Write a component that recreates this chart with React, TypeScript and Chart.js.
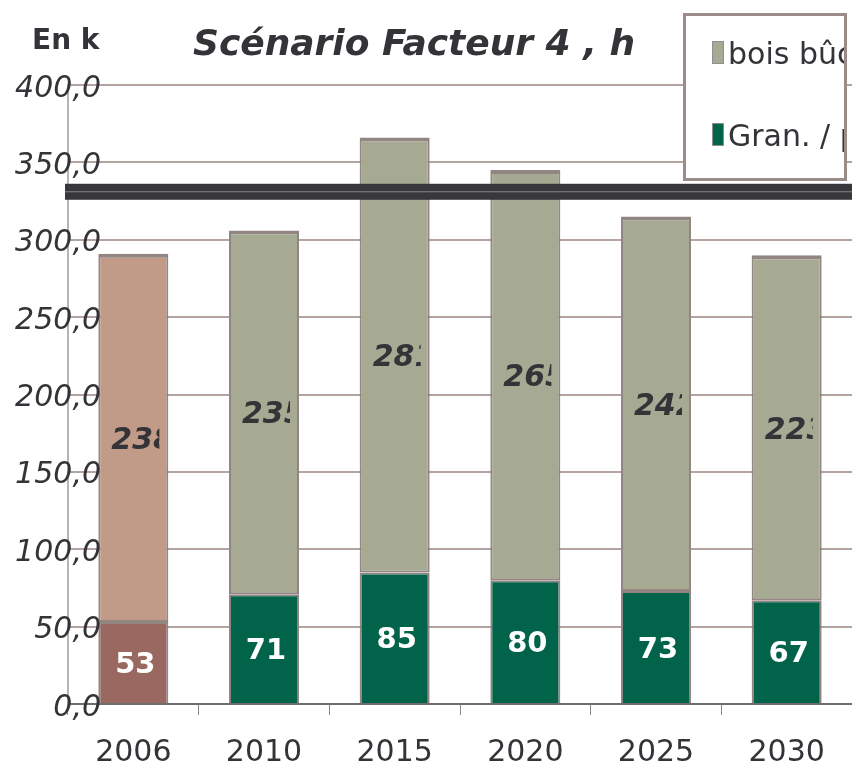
import React, { useEffect, useRef } from 'react';
import { Chart, registerables } from 'chart.js';

Chart.register(...registerables);

// ---- data ----
const categories = ['2006', '2010', '2015', '2020', '2025', '2030'];
const granValues = [53, 71, 85, 80, 73, 67];
const boisValues = [238, 235, 281, 265, 242, 223];
const targetValue = 331;
const yMin = 0;
const yMax = 400;
const yStep = 50;
const titleText = 'Scénario Facteur 4 , hors bois énergie';
const unitText = 'En ktep';
const legendLabels = ['bois bûche', 'Gran. / plaquettes'];

// ---- styles ----
const FONT = "'DejaVu Sans', Verdana, sans-serif";
const TEXT = '#333338';
const GRAN_FIRST = '#986861';
const GRAN = '#01634a';
const BOIS_FIRST = '#c19a88';
const BOIS = '#a7aa93';
const BAR_BORDER = '#928682';

const fmt = (v: number) => Number(v).toFixed(1).replace('.', ',');

const overlayPlugin = {
  id: 'overlay',
  afterDatasetsDraw(chart: any) {
    const ctx = chart.ctx as CanvasRenderingContext2D;
    const ys = chart.scales.y;
    const area = chart.chartArea;
    const metaG = chart.getDatasetMeta(0);
    const metaB = chart.getDatasetMeta(1);

    ctx.save();
    // bottom segment labels
    ctx.font = `bold 29px ${FONT}`;
    ctx.fillStyle = '#ffffff';
    ctx.textAlign = 'center';
    ctx.textBaseline = 'alphabetic';
    metaG.data.forEach((el: any, i: number) => {
      const p = el.getProps(['x', 'y', 'base'], true);
      ctx.fillText(String(granValues[i]), p.x + 2, (p.y + p.base) / 2 + 10.5);
    });
    // top segment labels (clipped inside bar)
    metaB.data.forEach((el: any, i: number) => {
      const p = el.getProps(['x', 'y', 'base', 'width'], true);
      const left = p.x - p.width / 2;
      ctx.save();
      ctx.beginPath();
      ctx.rect(left, p.y, p.width - 9, p.base - p.y);
      ctx.clip();
      ctx.font = `italic bold 30px ${FONT}`;
      ctx.fillStyle = TEXT;
      ctx.textAlign = 'left';
      ctx.textBaseline = 'alphabetic';
      ctx.fillText(String(boisValues[i]), left + 13, (p.y + p.base) / 2 + 11);
      ctx.restore();
    });

    // target band
    const ty = ys.getPixelForValue(targetValue);
    ctx.fillStyle = '#38373c';
    ctx.fillRect(area.left - 3, ty - 8, chart.width - area.left + 3, 16);
    ctx.fillStyle = '#85858a';
    ctx.fillRect(area.left - 3, ty - 0.5, chart.width - area.left + 3, 1);
    ctx.restore();
  },
  afterDraw(chart: any) {
    const ctx = chart.ctx as CanvasRenderingContext2D;
    const ys = chart.scales.y;
    const area = chart.chartArea;
    ctx.save();

    // y tick labels, right aligned, overlapping the axis line
    ctx.font = `italic 30px ${FONT}`;
    ctx.fillStyle = TEXT;
    ctx.textAlign = 'right';
    ctx.textBaseline = 'alphabetic';
    ys.ticks.forEach((t: any) => {
      const py = ys.getPixelForValue(t.value);
      ctx.fillText(fmt(t.value), area.left + 33, py + 11.5);
    });

    // unit
    ctx.save();
    ctx.beginPath();
    ctx.rect(0, 0, 100, 80);
    ctx.clip();
    ctx.font = `bold 28px ${FONT}`;
    ctx.fillStyle = TEXT;
    ctx.textAlign = 'left';
    ctx.fillText(unitText, 32, 49);
    ctx.restore();

    // title
    ctx.save();
    ctx.beginPath();
    ctx.rect(150, 0, 485, 80);
    ctx.clip();
    ctx.font = `italic bold 36px ${FONT}`;
    ctx.fillStyle = TEXT;
    ctx.textAlign = 'left';
    ctx.fillText(titleText, 193, 55);
    ctx.restore();

    // legend box
    const bx = 684.5, by = 14.5, bw = 161, bh = 165;
    ctx.fillStyle = '#ffffff';
    ctx.fillRect(bx, by, bw, bh);
    ctx.strokeStyle = '#9b8c88';
    ctx.lineWidth = 3;
    ctx.strokeRect(bx, by, bw, bh);
    ctx.save();
    ctx.beginPath();
    ctx.rect(bx + 1.5, by + 1.5, bw - 3, bh - 3);
    ctx.clip();
    const colors = [BOIS, GRAN];
    const baselines = [64, 146];
    legendLabels.forEach((lab, i) => {
      const b = baselines[i];
      ctx.fillStyle = colors[i];
      ctx.fillRect(712, b - 23, 12, 23);
      ctx.strokeStyle = '#8f8f8f';
      ctx.lineWidth = 1;
      ctx.strokeRect(712.5, b - 22.5, 11, 22);
      ctx.font = `30px ${FONT}`;
      ctx.fillStyle = TEXT;
      ctx.textAlign = 'left';
      ctx.textBaseline = 'alphabetic';
      ctx.fillText(lab, 728, b);
    });
    ctx.restore();
    ctx.restore();
  },
};

export default function App() {
  const ref = useRef<HTMLCanvasElement | null>(null);

  useEffect(() => {
    document.body.style.margin = '0';
    if (!ref.current) return;
    const chart = new Chart(ref.current, {
      type: 'bar',
      data: {
        labels: categories,
        datasets: [
          {
            label: legendLabels[1],
            data: granValues,
            backgroundColor: granValues.map((_, i) => (i === 0 ? GRAN_FIRST : GRAN)),
            borderColor: BAR_BORDER,
            borderWidth: { top: 2, left: 2, right: 2, bottom: 0 },
            borderSkipped: false,
            barPercentage: 0.536,
            categoryPercentage: 1,
          },
          {
            label: legendLabels[0],
            data: boisValues,
            backgroundColor: boisValues.map((_, i) => (i === 0 ? BOIS_FIRST : BOIS)),
            borderColor: BAR_BORDER,
            borderWidth: { top: 4, left: 2, right: 2, bottom: 2 },
            borderSkipped: false,
            barPercentage: 0.536,
            categoryPercentage: 1,
          },
        ],
      },
      options: {
        responsive: false,
        animation: false,
        devicePixelRatio: 1,
        layout: { padding: { top: 85, left: 0, right: 0, bottom: 0 } },
        plugins: {
          legend: { display: false },
          title: { display: false },
          tooltip: { enabled: false },
        },
        scales: {
          x: {
            stacked: true,
            grid: {
              display: true,
              drawOnChartArea: false,
              drawTicks: true,
              tickLength: 11,
              color: '#8a8a8a',
              lineWidth: 1,
            },
            border: { display: true, color: '#6e6e6e', width: 2 },
            ticks: {
              color: TEXT,
              font: { family: FONT, size: 30 },
              padding: 20,
              maxRotation: 0,
              autoSkip: false,
            },
            afterFit: (s: any) => {
              s.height = 61;
            },
          },
          y: {
            stacked: true,
            min: yMin,
            max: yMax,
            grid: { color: '#b3a4a0', lineWidth: 2, drawTicks: false },
            border: { display: true, color: '#b5b5b5', width: 2 },
            ticks: {
              display: false,
              stepSize: yStep,
            },
            afterFit: (s: any) => {
              s.width = 68;
            },
          },
        },
      },
      plugins: [overlayPlugin],
    });
    return () => chart.destroy();
  }, []);

  return (
    <div style={{ width: 852, height: 765 }}>
      <canvas ref={ref} width={852} height={765} style={{ display: 'block', width: 852, height: 765 }} />
    </div>
  );
}
